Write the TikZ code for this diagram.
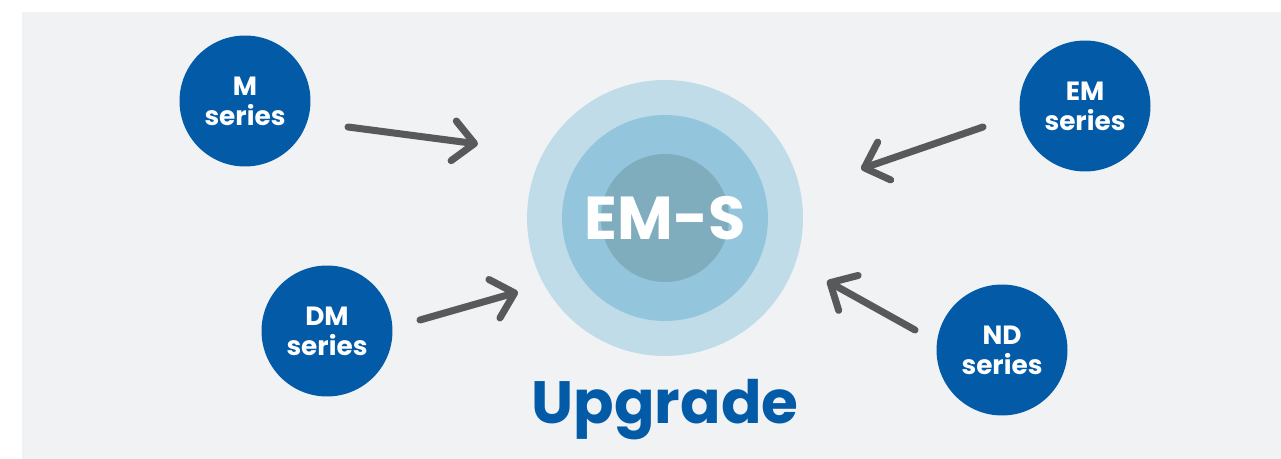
\documentclass[tikz,border=0pt]{standalone}
\usepackage{fontspec}
\setmainfont{Poppins}
\usetikzlibrary{arrows.meta}
\definecolor{bg}{HTML}{F1F2F4}
\definecolor{serblue}{HTML}{035BA8}
\definecolor{ringa}{HTML}{BFDCE8}
\definecolor{ringb}{HTML}{93C5DC}
\definecolor{ringc}{HTML}{80ADBE}
\definecolor{arrgray}{HTML}{58595B}
\begin{document}
\begin{tikzpicture}[x=0.02cm, y=-0.02cm,
    ser/.style={circle, fill=serblue, text=white, minimum size=2.62cm, inner sep=0pt,
        align=center, font=\bfseries\fontsize{15}{17}\selectfont},
    ring/.style={circle, minimum size=#1, inner sep=0pt},
    feed/.style={draw=arrgray, line width=4pt, line cap=round,
        -{Straight Barb[length=0.42cm, width=0.8cm, round]}}]
\useasboundingbox (0,0) rectangle (1281,459);
\fill[bg] (22,12) rectangle (1281,459);
% rings
\node[ring=5.52cm, fill=ringa] (core) at (665,218) {};
\node[ring=4.12cm, fill=ringb] (mid) at (core) {};
\node[ring=2.56cm, fill=ringc] (inner) at (core) {};
\node[text=white, font=\bfseries\fontsize{34.5}{38}\selectfont] (ems) at (core) {EM-S};
\node[text=serblue, font=\bfseries\fontsize{34}{38}\selectfont, anchor=base] (upg) at (665,423) {Upgrade};
% series
\node[ser] (mser) at (245,101) {M\\series};
\node[ser] (emser) at (1085,106) {EM\\series};
\node[ser] (dmser) at (327,331) {DM\\series};
\node[ser] (ndser) at (1002,350) {ND\\series};
% arrows
\coordinate (m-a) at (348,127); \coordinate (m-b) at (478,144);
\coordinate (em-a) at (983,127); \coordinate (em-b) at (861,169);
\coordinate (dm-a) at (420,320); \coordinate (dm-b) at (518,292);
\coordinate (nd-a) at (915,330); \coordinate (nd-b) at (827,281);
\draw[feed] (m-a) -- (m-b);
\draw[feed] (em-a) -- (em-b);
\draw[feed] (dm-a) -- (dm-b);
\draw[feed] (nd-a) -- (nd-b);
\end{tikzpicture}
\end{document}
